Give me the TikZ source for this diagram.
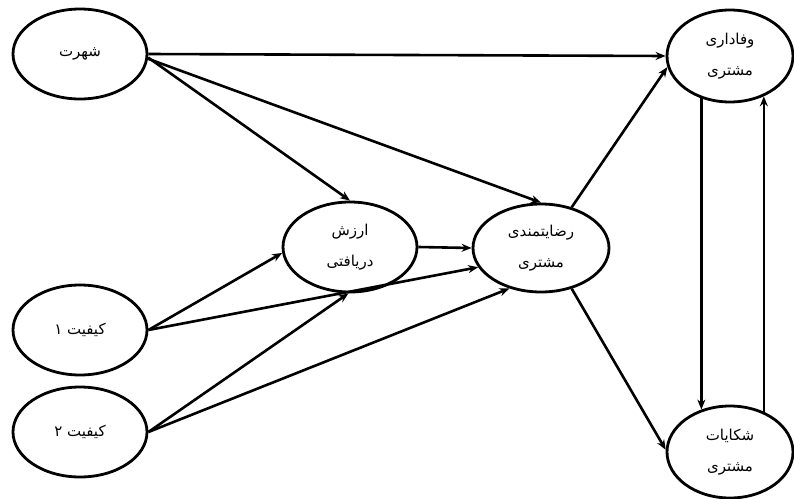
\documentclass[tikz,border=0pt]{standalone}
\usepackage{fontspec}
\usetikzlibrary{arrows.meta,shapes.geometric}
\newfontfamily\arabicfont[Script=Arabic]{DejaVu Sans}
\TeXXeTstate=1
\newcommand{\fa}[1]{\beginR #1\endR}

\begin{document}
\begin{tikzpicture}[x=1pt,y=-1pt,
  sazeh/.style={ellipse,draw,line width=2.8pt,minimum width=134pt,minimum height=90pt,inner sep=0pt,align=center,font=\arabicfont\fontsize{15}{31}\selectfont},
  payvand/.style={-{Stealth[length=10pt,width=8pt]},line width=2.6pt}]
\useasboundingbox(0,0)rectangle(794,498);
% sazeha
\node[sazeh](shohrat)at(80,54){\fa{شهرت}};
\node[sazeh](keyfiyat1)at(80,330){\fa{کیفیت ۱}};
\node[sazeh](keyfiyat2)at(80,432){\fa{کیفیت ۲}};
\node[sazeh](arzesh)at(350,247){\fa{ارزش}\\\fa{دریافتی}};
\node[sazeh,minimum width=136pt,minimum height=88pt](rezayat)at(541,248){\fa{رضایتمندی}\\\fa{مشتری}};
\node[sazeh,minimum width=126pt,minimum height=92pt](vafadari)at(730,56){\fa{وفاداری}\\\fa{مشتری}};
\node[sazeh,minimum width=126pt,minimum height=92pt](shekayat)at(730,452){\fa{شکایات}\\\fa{مشتری}};
% payvandha
\draw[payvand](shohrat.east)--(vafadari.west);
\draw[payvand](shohrat.-3)--(arzesh.north);
\draw[payvand](shohrat.-4)--(rezayat.north);
\draw[payvand](rezayat.53)--(vafadari.190);
\draw[payvand](arzesh.east)--(rezayat.west);
\draw[payvand](keyfiyat1.east)--(arzesh.185);
\draw[payvand](keyfiyat1.east)--(rezayat.197);
\draw[payvand](keyfiyat2.east)--(arzesh.-92);
\draw[payvand](keyfiyat2.east)--(rezayat.232);
\draw[payvand](rezayat.-53)--(shekayat.178);
\draw[payvand](vafadari.236)--(shekayat.124);
\draw[payvand](shekayat.50)--(vafadari.-50);
\end{tikzpicture}
\end{document}
